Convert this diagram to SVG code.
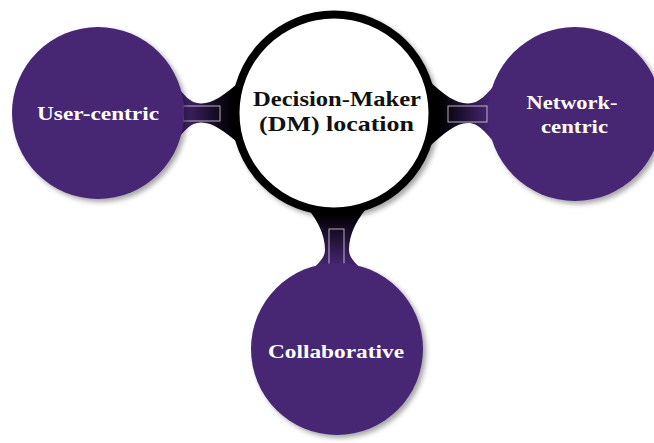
<svg xmlns="http://www.w3.org/2000/svg" width="654" height="443" viewBox="0 0 654 443">
<defs>
<filter id="sh" x="-20%" y="-20%" width="150%" height="150%">
<feDropShadow dx="3" dy="3" stdDeviation="2.5" flood-color="#000" flood-opacity="0.35"/>
</filter>
<linearGradient id="gL" gradientUnits="userSpaceOnUse" x1="180" y1="0" x2="232" y2="0">
<stop offset="0" stop-color="#472673"/><stop offset="1" stop-color="#000"/>
</linearGradient>
<linearGradient id="gR" gradientUnits="userSpaceOnUse" x1="440" y1="0" x2="490" y2="0">
<stop offset="0" stop-color="#000"/><stop offset="1" stop-color="#472673"/>
</linearGradient>
<linearGradient id="gB" gradientUnits="userSpaceOnUse" x1="0" y1="214" x2="0" y2="266">
<stop offset="0" stop-color="#000"/><stop offset="1" stop-color="#472673"/>
</linearGradient>
</defs>
<style>
.sat{fill:#472673;filter:url(#sh)}
.st{font-family:"Liberation Serif","Times New Roman",serif;font-weight:bold;font-size:18px;fill:#fff;text-anchor:middle}
.ct{font-family:"Liberation Serif","Times New Roman",serif;font-weight:bold;font-size:22px;fill:#111;text-anchor:middle}
.bar{fill:none;stroke:#fff;stroke-opacity:0.75;stroke-width:0.9}
</style>
<g id="connectors">
<path fill="url(#gL)" d="M172,80 C184,95 190,103.5 201,103.5 C213,103.5 224,95 242,80 L242,146 C224,131 213,122.5 201,122.5 C190,122.5 184,131 172,146 Z"/>
<rect class="bar" x="183" y="106" width="37" height="15"/>
<path fill="url(#gR)" d="M428,80 C444,95 456,103.5 468,103.5 C479,103.5 486,95 499,80 L499,148 C486,133 479,123 468,123 C456,123 444,133 428,148 Z"/>
<rect class="bar" x="448" y="106" width="39" height="16"/>
<path fill="url(#gB)" d="M302,202 C317,218 325,234 325,250 C325,258 318,264 307,274 L367,274 C356,264 349,258 349,250 C349,234 357,218 372,202 Z"/>
<rect class="bar" x="329" y="229" width="15" height="40"/>
</g>
<g id="user-centric">
<circle class="sat" cx="98" cy="113" r="86"/>
<text class="st" x="98" y="120" textLength="122" lengthAdjust="spacingAndGlyphs">User-centric</text>
</g>
<g id="network-centric">
<circle class="sat" cx="575" cy="114" r="87"/>
<text class="st" x="572" y="109" textLength="91" lengthAdjust="spacingAndGlyphs">Network-</text>
<text class="st" x="574.5" y="133" textLength="67" lengthAdjust="spacingAndGlyphs">centric</text>
</g>
<g id="collaborative">
<circle class="sat" cx="337" cy="349" r="86"/>
<text class="st" x="336" y="358" textLength="136" lengthAdjust="spacingAndGlyphs">Collaborative</text>
</g>
<g id="dm-location">
<circle cx="334" cy="113" r="98.5" fill="#fff" stroke="#000" stroke-width="8" filter="url(#sh)"/>
<text class="ct" x="337" y="106" textLength="168" lengthAdjust="spacingAndGlyphs">Decision-Maker</text>
<text class="ct" x="336.5" y="131" textLength="155" lengthAdjust="spacingAndGlyphs">(DM) location</text>
</g>
</svg>
